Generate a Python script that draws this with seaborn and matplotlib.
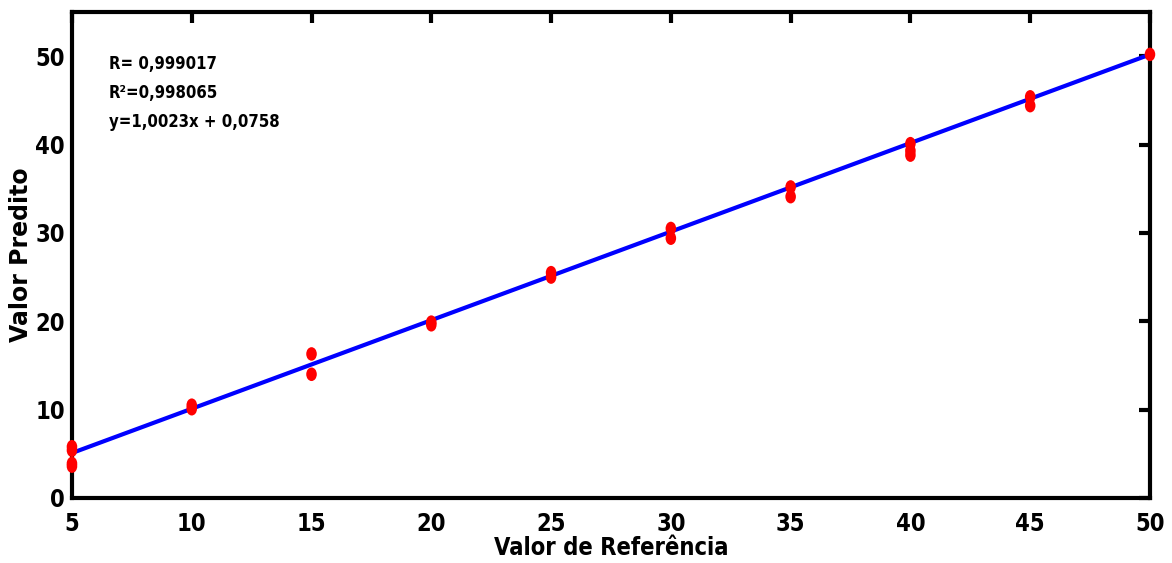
import matplotlib
matplotlib.use("Agg")
import matplotlib.pyplot as plt
from matplotlib import font_manager
from matplotlib.path import Path
import seaborn as sns
import pandas as pd

# Reference concentrations and predicted values
ref_values = [5, 5, 5, 5, 10, 10, 15, 15, 20, 20, 25, 25, 30, 30,
              35, 35, 40, 40, 40, 45, 45, 50]
pred_values = [5.8, 5.4, 3.9, 3.6, 10.5, 10.1, 16.3, 14.0, 19.9, 19.6,
               25.5, 25.0, 30.5, 29.4, 35.2, 34.1, 40.1, 39.3, 38.8,
               45.4, 44.4, 50.2]

# Fitted regression line
slope = 1.0023
intercept = 0.0758
fit_x = [5, 50]

stats_lines = ["R= 0,999017", "R\u00b2=0,998065", "y=1,0023x + 0,0758"]
x_ticks = [5, 10, 15, 20, 25, 30, 35, 40, 45, 50]
y_ticks = [0, 10, 20, 30, 40, 50]

sns.set_style("white")
plt.rcParams['font.family'] = ['DejaVu Sans']
plt.rcParams['text.color'] = 'black'
plt.rcParams['axes.labelcolor'] = 'black'

fp_tick = font_manager.FontProperties(family='DejaVu Sans', weight='bold',
                                      stretch='condensed', size=17)
fp_xlabel = font_manager.FontProperties(family='DejaVu Sans', weight='bold',
                                        stretch='condensed', size=17)
fp_ylabel = font_manager.FontProperties(family='DejaVu Sans', weight='bold',
                                        size=17)
fp_small = font_manager.FontProperties(family='DejaVu Sans', weight='bold',
                                       stretch='condensed', size=12)

# slightly tall elliptical marker
unit = Path.unit_circle()
oval = Path(unit.vertices * [0.78, 1.0], unit.codes)

points = pd.DataFrame({"ref": ref_values, "pred": pred_values})
line = pd.DataFrame({"x": fit_x, "y": [slope * v + intercept for v in fit_x]})

fig = plt.figure(figsize=(11.72, 5.63), dpi=100)
ax = fig.add_axes([0.0614, 0.1155, 0.9198, 0.8632])

sns.lineplot(data=line, x="x", y="y", color="#0000ff", linewidth=3, ax=ax, zorder=2)
sns.scatterplot(data=points, x="ref", y="pred", color="#ff0000", s=95,
                marker=oval, edgecolor="none", ax=ax, zorder=3, clip_on=False)

ax.set_xlim(5, 50)
ax.set_ylim(0, 55)
ax.set_xticks(x_ticks)
ax.set_yticks(y_ticks)
ax.set_xticklabels([str(v) for v in x_ticks], fontproperties=fp_tick, color="black")
ax.set_yticklabels([str(v) for v in y_ticks], fontproperties=fp_tick, color="black")
ax.tick_params(direction="in", length=8, width=3, top=True, right=True,
               colors="black")
ax.tick_params(axis="x", pad=10)
ax.tick_params(axis="y", pad=5)
for sp in ax.spines.values():
    sp.set_linewidth(3)
    sp.set_color("black")
    sp.set_visible(True)

ax.set_xlabel("Valor de Refer\u00eancia", fontproperties=fp_xlabel, color="black")
ax.set_ylabel("Valor Predito", fontproperties=fp_ylabel, color="black")
ax.xaxis.set_label_coords(0.5, -0.103)
ax.xaxis.label.set_va("center")
ax.yaxis.set_label_coords(-0.047, 0.5)
ax.yaxis.label.set_va("center")

for i, txt in enumerate(stats_lines):
    ax.text(0.034, 0.893 - i * 0.06, txt, transform=ax.transAxes,
            fontproperties=fp_small, color="black", va="center", ha="left")

fig.savefig("out.png", dpi=100)
